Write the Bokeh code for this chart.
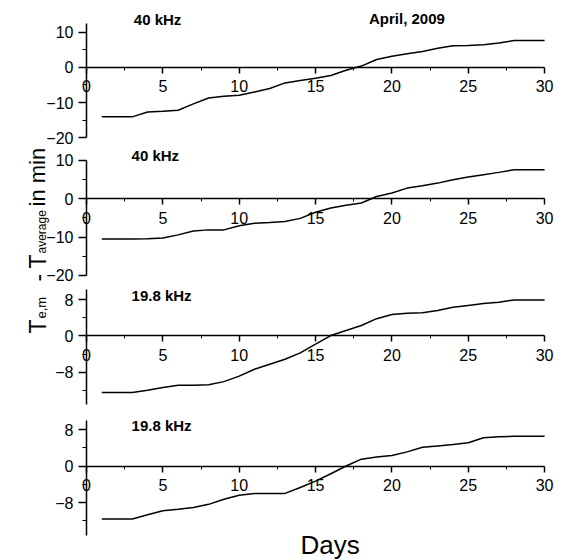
import math
from bokeh.plotting import figure
from bokeh.models import Range1d, FixedTicker, Label
from bokeh.layouts import column
from bokeh.embed import file_html
from bokeh.resources import INLINE

# ---- data ----
days = list(range(1, 31))

s1_40khz_a = [-14.1, -14.1, -14.1, -12.7, -12.5, -12.2, -10.4, -8.7, -8.2, -7.9,
              -7.0, -6.0, -4.4, -3.7, -3.1, -2.3, -0.8, 0.4, 2.3, 3.2,
              3.9, 4.6, 5.5, 6.2, 6.3, 6.5, 7.0, 7.7, 7.7, 7.7]
s2_40khz_b = [-10.5, -10.5, -10.5, -10.4, -10.2, -9.4, -8.4, -8.1, -8.1, -7.0,
              -6.4, -6.2, -5.9, -5.1, -3.5, -2.4, -1.7, -1.1, 0.6, 1.5,
              2.8, 3.4, 4.1, 5.0, 5.7, 6.3, 6.9, 7.6, 7.6, 7.6]
s3_198khz_a = [-12.4, -12.4, -12.4, -11.9, -11.3, -10.8, -10.8, -10.7, -10.0, -8.8,
               -7.3, -6.2, -5.1, -3.7, -1.8, 0.1, 1.2, 2.3, 3.8, 4.7,
               5.0, 5.1, 5.6, 6.3, 6.7, 7.1, 7.4, 7.9, 7.9, 7.9]
s4_198khz_b = [-11.6, -11.6, -11.6, -10.7, -9.8, -9.5, -9.1, -8.4, -7.3, -6.4,
               -6.0, -6.0, -6.0, -4.7, -3.3, -1.7, 0.0, 1.5, 2.0, 2.3,
               3.1, 4.1, 4.4, 4.7, 5.1, 6.2, 6.4, 6.5, 6.5, 6.5]

x_ticks = [0, 5, 10, 15, 20, 25, 30]
x_minor = [2.5, 7.5, 12.5, 17.5, 22.5, 27.5]
y_ticks_40 = [-20, -10, 0, 10]
y_minor_40 = [-15, -5, 5]
y_ticks_198 = [-8, 0, 8]
y_minor_198 = [-12, -4, 4]

panel_labels = ["40 kHz", "40 kHz", "19.8 kHz", "19.8 kHz"]
date_label = "April, 2009"
x_title = "Days"

FONT = "Liberation Sans"
PX_PER_DAY = 15.27
X0_PX = 86
WIDTH = 563
X_VIEW = (-X0_PX / PX_PER_DAY, (WIDTH - X0_PX) / PX_PER_DAY)


def make_panel(vals, view, bounds, yt, ym, height):
    p = figure(width=WIDTH, height=height, x_range=Range1d(*X_VIEW), y_range=Range1d(*view),
               output_backend="svg", toolbar_location=None, min_border=0)
    p.outline_line_color = None
    p.grid.visible = False
    p.background_fill_color = "white"
    p.border_fill_color = "white"

    xa = p.xaxis[0]
    xa.fixed_location = 0
    xa.bounds = (0, 30)
    xa.ticker = FixedTicker(ticks=x_ticks, minor_ticks=x_minor)
    xa.axis_line_width = 1.5
    xa.major_tick_out = 6
    xa.major_tick_in = 0
    xa.minor_tick_out = 3
    xa.minor_tick_in = 0
    xa.major_tick_line_width = 1.5
    xa.major_label_standoff = 7
    xa.major_label_text_font = FONT
    xa.major_label_text_font_size = "16px"
    xa.major_label_text_color = "black"

    ya = p.yaxis[0]
    ya.fixed_location = 0
    ya.bounds = bounds
    ya.ticker = FixedTicker(ticks=yt, minor_ticks=ym)
    ya.axis_line_width = 1.5
    ya.major_tick_out = 8
    ya.major_tick_in = 0
    ya.minor_tick_out = 4
    ya.minor_tick_in = 0
    ya.major_tick_line_width = 1.5
    ya.major_label_standoff = 5
    ya.major_label_text_font = FONT
    ya.major_label_text_font_size = "16px"
    ya.major_label_text_color = "black"

    p.line(days, vals, line_color="black", line_width=1.5)
    return p


p1 = make_panel(s1_40khz_a, (-22.57, 19.14), (-20, 12.6), y_ticks_40, y_minor_40, 146)
p2 = make_panel(s2_40khz_b, (-22.61, 13.65), (-20, 10), y_ticks_40, y_minor_40, 139)
p3 = make_panel(s3_198khz_a, (-16.77, 11.07), (-15.1, 10.2), y_ticks_198, y_minor_198, 127)
p4 = make_panel(s4_198khz_b, (-20.71, 11.73), (-15.3, 10.0), y_ticks_198, y_minor_198, 148)


def title(p, x, y, text):
    p.add_layout(Label(x=x, y=y, text=text, text_font=FONT, text_font_size="15px",
                       text_font_style="bold", text_baseline="middle", text_align="left",
                       text_color="black"))


title(p1, 3.1, 13.8, panel_labels[0])
title(p1, 18.5, 14.0, date_label)
title(p2, 2.95, 11.3, panel_labels[1])
title(p3, 2.95, 8.9, panel_labels[2])
title(p4, 2.95, 8.9, panel_labels[3])

p4.add_layout(Label(x=15.96, y=-17.3, text=x_title, text_font=FONT, text_font_size="26px",
                    text_baseline="middle", text_align="center", text_color="black"))


# ---- rotated y-axis label with subscripts, split across panels 2 and 3 ----
def px_x(px):
    return X_VIEW[0] + px / PX_PER_DAY


def rot_label(p, view_top, top_px, scale, xpx, ypx, text, size):
    p.add_layout(Label(x=px_x(xpx), y=view_top - (ypx - top_px) / scale, text=text,
                       angle=math.pi / 2, text_align="left", text_baseline="alphabetic",
                       text_font=FONT, text_font_size=size, text_color="black"))


# panel 2: canvas top 146 px, 3.833 px/unit
for xpx, ypx, txt, size in [(37, 281, "-", "23px"), (37, 268, "T", "23px"),
                            (41, 253, "average", "12px"), (37, 206, "in min", "22px")]:
    rot_label(p2, 13.65, 146, 3.833, xpx, ypx, txt, size)
# panel 3: canvas top 285 px, 4.5625 px/unit
for xpx, ypx, txt, size in [(37, 333, "T", "23px"), (41, 318, "e,m", "13px")]:
    rot_label(p3, 11.07, 285, 4.5625, xpx, ypx, txt, size)

layout = column(p1, p2, p3, p4)

with open("out.html", "w") as f:
    f.write(file_html(layout, INLINE))
